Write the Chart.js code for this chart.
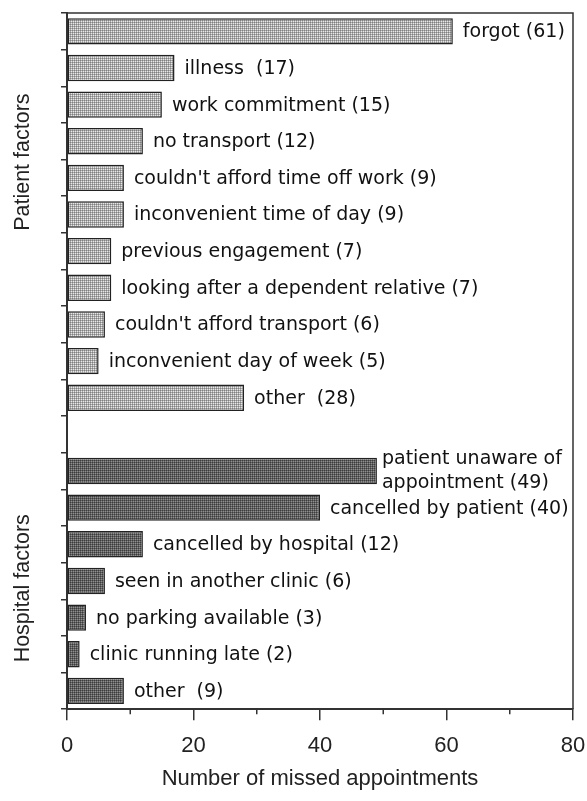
<!DOCTYPE html>
<html>
<head>
<meta charset="utf-8">
<script src="https://cdn.jsdelivr.net/npm/chart.js@4/dist/chart.umd.min.js"></script>
<style>
  body { margin: 0; background: #fff; }
  canvas { display: block; }
</style>
</head>
<body>
<canvas id="grafico" width="587" height="801"></canvas>
<script>
// categorias (la fila vacía separa los dos grupos)
var categorias = [
    'forgot', 'illness ', 'work commitment', 'no transport',
    "couldn't afford time off work", 'inconvenient time of day',
    'previous engagement', 'looking after a dependent relative',
    "couldn't afford transport", 'inconvenient day of week', 'other ',
    '',
    'patient unaware of\nappointment', 'cancelled by patient', 'cancelled by hospital',
    'seen in another clinic', 'no parking available', 'clinic running late', 'other '
];
var factoresPaciente = [61, 17, 15, 12, 9, 9, 7, 7, 6, 5, 28];
var factoresHospital = [49, 40, 12, 6, 3, 2, 9];
var ticksX = [0, 20, 40, 60, 80];
var ticksMenores = [10, 30, 50, 70];

var canvas = document.getElementById('grafico');
var ctx = canvas.getContext('2d');

// trama punteada para las barras
function crearTrama(a, b, c) {
    var t = document.createElement('canvas');
    t.width = 2; t.height = 2;
    var tc = t.getContext('2d');
    tc.fillStyle = c; tc.fillRect(0, 0, 2, 2);
    tc.fillStyle = b; tc.fillRect(1, 0, 1, 1); tc.fillRect(0, 1, 1, 1);
    tc.fillStyle = a; tc.fillRect(0, 0, 1, 1);
    return ctx.createPattern(t, 'repeat');
}
var tramaPaciente = crearTrama('#808080', '#aaaaaa', '#e8e8e8');
var tramaHospital = crearTrama('#3c3c3c', '#606060', '#909090');

var datosPaciente = categorias.map(function(c, i) { return i < factoresPaciente.length ? factoresPaciente[i] : null; });
var datosHospital = categorias.map(function(c, i) { return i >= 12 ? factoresHospital[i - 12] : null; });

var etiquetas = {
    id: 'etiquetas',
    afterDatasetsDraw: function(chart) {
        var c = chart.ctx, x = chart.scales.x, y = chart.scales.y, area = chart.chartArea;
        c.save();
        // marco superior y derecho
        c.strokeStyle = '#333'; c.lineWidth = 1.5;
        c.beginPath();
        c.moveTo(area.left, area.top); c.lineTo(area.right, area.top); c.lineTo(area.right, area.bottom);
        c.stroke();
        // marcas menores del eje x
        ticksMenores.forEach(function(v) {
            var px = x.getPixelForValue(v);
            c.beginPath(); c.moveTo(px, area.bottom); c.lineTo(px, area.bottom + 5); c.stroke();
        });
        // textos de las barras
        c.font = '19px "DejaVu Sans"';
        c.fillStyle = '#111';
        c.textBaseline = 'middle';
        c.textAlign = 'left';
        categorias.forEach(function(nombre, i) {
            if (!nombre) return;
            var v = datosPaciente[i] != null ? datosPaciente[i] : datosHospital[i];
            var py = y.getPixelForValue(i);
            var px = x.getPixelForValue(v);
            var lineas = nombre.split('\n');
            if (lineas.length > 1) {
                c.fillText(lineas[0], px + 5, py - 12);
                c.fillText(lineas[1] + ' (' + v + ')', px + 5, py + 12);
            } else {
                c.fillText(nombre + ' (' + v + ')', px + 10, py + 1);
            }
        });
        // títulos de los grupos
        c.font = '21.5px "Liberation Sans"';
        c.fillStyle = '#222';
        c.textAlign = 'center';
        [['Patient factors', 3.57], ['Hospital factors', 15.2]].forEach(function(t) {
            c.save();
            c.translate(23, y.getPixelForValue(t[1]));
            c.rotate(-Math.PI / 2);
            c.fillText(t[0], 0, 0);
            c.restore();
        });
        c.restore();
    }
};

var config = {
    type: 'bar',
    data: {
        labels: categorias,
        datasets: [
            { label: 'Patient factors', data: datosPaciente, backgroundColor: tramaPaciente },
            { label: 'Hospital factors', data: datosHospital, backgroundColor: tramaHospital }
        ]
    },
    options: {
        indexAxis: 'y',
        responsive: false,
        animation: false,
        layout: { padding: { left: 61, top: 13, right: 14, bottom: 7 } },
        datasets: {
            bar: {
                grouped: false,
                barPercentage: 0.72,
                categoryPercentage: 1,
                borderColor: '#222',
                borderWidth: 1.5,
                borderSkipped: false
            }
        },
        plugins: { legend: { display: false }, tooltip: { enabled: false } },
        scales: {
            x: {
                min: 0, max: 80,
                afterBuildTicks: function(s) { s.ticks = ticksX.map(function(v) { return { value: v }; }); },
                afterFit: function(s) { s.paddingRight = 0; s.paddingLeft = 0; },
                grid: { drawOnChartArea: false, tickLength: 11, color: '#333', lineWidth: 1.5 },
                border: { color: '#333', width: 2 },
                ticks: { color: '#222', padding: 13, font: { family: 'Liberation Sans', size: 22 }, maxRotation: 0 },
                title: {
                    display: true, text: 'Number of missed appointments', color: '#222',
                    font: { family: 'Liberation Sans', size: 22 }, padding: { top: -7, bottom: 2 }
                }
            },
            y: {
                grid: { drawOnChartArea: false, tickLength: 6, color: '#333', lineWidth: 1.5, offset: true },
                border: { color: '#333', width: 2 },
                ticks: { display: false }
            }
        }
    },
    plugins: [etiquetas]
};

var miGrafico = new Chart(ctx, config);
</script>
</body>
</html>
